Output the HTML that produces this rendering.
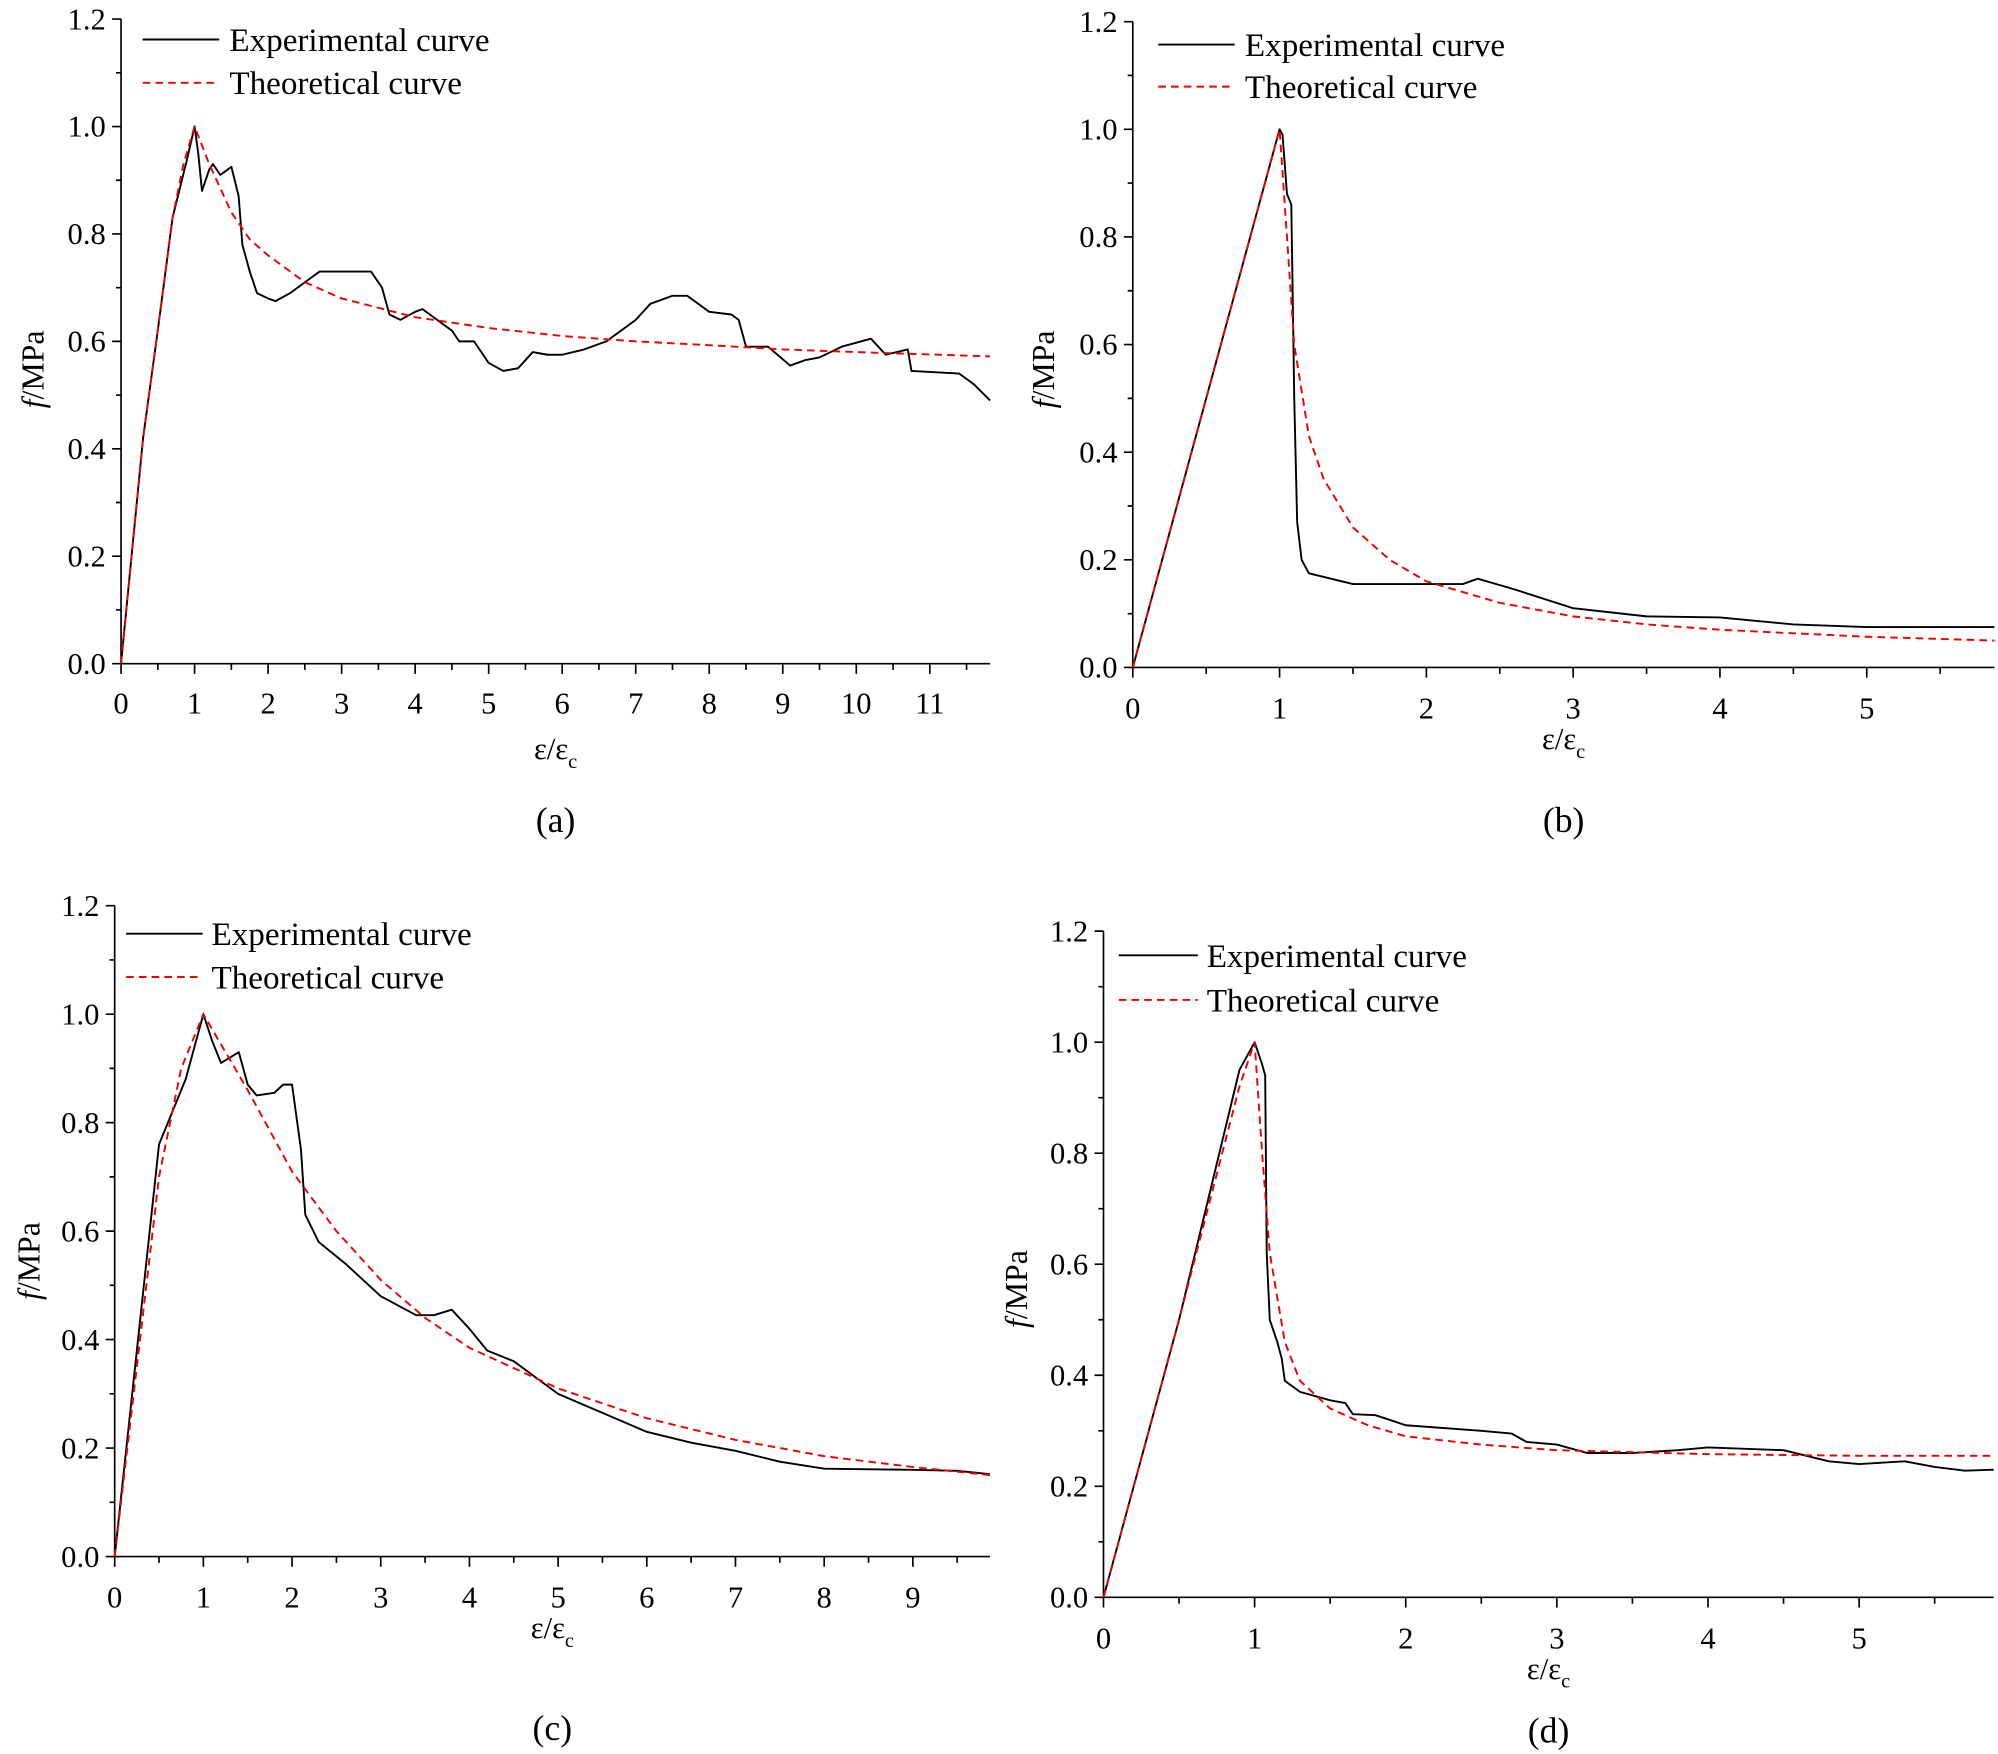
<!DOCTYPE html>
<html><head><meta charset="utf-8"><style>html,body{margin:0;padding:0;background:#fff}svg{display:block}text{font-family:"Liberation Serif","Times New Roman",serif}</style></head>
<body>
<svg id="s" width="1998" height="1754" viewBox="0 0 1568 1377" preserveAspectRatio="none" xmlns="http://www.w3.org/2000/svg"></svg>
<script>
const S=document.getElementById('s');let h='';
const P=[
{x0:95,y0:521,y12:15,ux:57.7,xmax:11.82,xt:11,lab:'(a)',labY:551,xlY:588,capY:643,lg:[112,172,31,180,65],yl:[25,290],
th:[[0,0],[0.3,0.42],[0.5,0.62],[0.7,0.83],[0.85,0.93],[1,1],[1.2,0.93],[1.5,0.84],[1.75,0.79],[2,0.76],[2.5,0.71],[3,0.68],[4,0.645],[5,0.625],[6,0.61],[7,0.6],[8,0.593],[9,0.585],[10,0.58],[11.82,0.572]],
ex:[[0,0],[0.3,0.42],[0.5,0.62],[0.7,0.83],[0.9,0.94],[1,1],[1.05,0.95],[1.1,0.88],[1.2,0.92],[1.25,0.93],[1.35,0.91],[1.45,0.92],[1.5,0.925],[1.6,0.87],[1.65,0.78],[1.75,0.73],[1.85,0.69],[2,0.68],[2.1,0.675],[2.3,0.69],[2.5,0.71],[2.7,0.73],[3,0.73],[3.2,0.73],[3.4,0.73],[3.55,0.7],[3.65,0.65],[3.8,0.64],[4,0.655],[4.1,0.66],[4.3,0.64],[4.5,0.62],[4.6,0.6],[4.8,0.6],[5,0.56],[5.2,0.545],[5.4,0.55],[5.6,0.58],[5.8,0.575],[6,0.575],[6.3,0.585],[6.6,0.6],[7,0.64],[7.2,0.67],[7.5,0.685],[7.7,0.685],[8,0.655],[8.3,0.65],[8.4,0.64],[8.5,0.59],[8.8,0.59],[9.1,0.555],[9.3,0.565],[9.5,0.57],[9.8,0.59],[10.2,0.605],[10.4,0.575],[10.7,0.585],[10.75,0.545],[11.4,0.54],[11.6,0.52],[11.82,0.49]]},
{x0:889,y0:524,y12:17,ux:115.2,xmax:5.87,xt:5,lab:'(b)',labY:555,xlY:580,capY:643,lg:[909,969,35,977,68],yl:[818,290],
th:[[0,0],[1,1],[1.05,0.8],[1.1,0.6],[1.2,0.43],[1.3,0.35],[1.5,0.26],[1.75,0.2],[2,0.16],[2.5,0.12],[3,0.095],[3.5,0.08],[4,0.07],[5,0.057],[5.87,0.05]],
ex:[[0,0],[1,1],[1.02,0.99],[1.05,0.88],[1.08,0.86],[1.1,0.5],[1.12,0.27],[1.15,0.2],[1.2,0.175],[1.5,0.155],[2,0.155],[2.25,0.155],[2.35,0.165],[2.6,0.145],[3,0.11],[3.5,0.095],[4,0.093],[4.5,0.08],[5,0.075],[5.87,0.075]]},
{x0:90,y0:1222,y12:711,ux:69.6,xmax:9.87,xt:9,lab:'(c)',labY:1253,xlY:1278,capY:1356,lg:[99,159,733,166,767],yl:[22,990],
th:[[0,0],[0.5,0.7],[0.75,0.9],[1,1],[1.5,0.86],[2,0.71],[2.5,0.6],[3,0.51],[3.5,0.44],[4,0.385],[5,0.31],[6,0.255],[7,0.215],[8,0.185],[9,0.165],[9.87,0.15]],
ex:[[0,0],[0.5,0.76],[0.6,0.8],[0.8,0.88],[1,1],[1.1,0.95],[1.2,0.91],[1.4,0.93],[1.5,0.87],[1.6,0.85],[1.8,0.855],[1.9,0.87],[2,0.87],[2.1,0.75],[2.15,0.63],[2.3,0.58],[2.6,0.54],[3,0.48],[3.4,0.445],[3.6,0.445],[3.8,0.455],[4,0.42],[4.2,0.38],[4.5,0.36],[5,0.3],[5.5,0.265],[6,0.23],[6.5,0.21],[7,0.195],[7.5,0.175],[8,0.162],[9,0.16],[9.5,0.158],[9.87,0.152]]},
{x0:866,y0:1254,y12:731,ux:118.6,xmax:5.89,xt:5,lab:'(d)',labY:1285,xlY:1310,capY:1358,lg:[878,940,750,947,785],yl:[797,1012],
th:[[0,0],[0.5,0.5],[0.9,0.92],[1,1],[1.05,0.8],[1.1,0.62],[1.2,0.46],[1.3,0.39],[1.5,0.34],[1.75,0.31],[2,0.29],[2.5,0.275],[3,0.265],[4,0.258],[5,0.255],[5.89,0.255]],
ex:[[0,0],[0.5,0.5],[0.9,0.95],[1,1],[1.05,0.96],[1.07,0.94],[1.08,0.62],[1.1,0.5],[1.15,0.46],[1.18,0.43],[1.2,0.39],[1.3,0.37],[1.5,0.355],[1.6,0.35],[1.65,0.33],[1.8,0.328],[2,0.31],[2.5,0.3],[2.7,0.295],[2.8,0.28],[3,0.275],[3.2,0.26],[3.5,0.26],[3.8,0.265],[4,0.27],[4.5,0.265],[4.8,0.245],[5,0.24],[5.3,0.245],[5.5,0.235],[5.7,0.228],[5.89,0.23]]}
];
for(const p of P){
 const uy=(p.y0-p.y12)/1.2, X=v=>p.x0+v*p.ux, Y=v=>p.y0-v*uy, xe=X(p.xmax);
 let d=`M${p.x0} ${p.y12}V${p.y0}H${xe}`;
 for(let i=0;i<=12;i++){const y=Y(i/10);d+=`M${p.x0} ${y}h${i%2?-4:-7}`;}
 for(let i=0;i<=p.xt*2+1;i++){const x=X(i/2);if(x>xe+0.5)break;d+=`M${x} ${p.y0}v${i%2?5:8}`;}
 h+=`<path d="${d}" stroke="#000" stroke-width="1.3" fill="none"/>`;
 for(let i=0;i<=6;i++)h+=`<text x="${p.x0-12}" y="${Y(i/5)+8}" font-size="24" text-anchor="end">${(i/5).toFixed(1)}</text>`;
 for(let i=0;i<=p.xt;i++)h+=`<text x="${X(i)}" y="${p.labY+9}" font-size="24" text-anchor="middle">${i}</text>`;
 const cx=(p.x0+xe)/2;
 h+=`<text x="${cx}" y="${p.xlY+8}" font-size="24" text-anchor="middle">ε/ε<tspan font-size="16" dy="7">c</tspan></text>`;
 h+=`<text x="${cx}" y="${p.capY+10}" font-size="28" text-anchor="middle">${p.lab}</text>`;
 h+=`<text transform="translate(${p.yl[0]+9},${p.yl[1]}) rotate(-90)" font-size="25" text-anchor="middle"><tspan font-style="italic">f</tspan>/MPa</text>`;
 const l=p.lg;
 h+=`<line x1="${l[0]}" x2="${l[1]}" y1="${l[2]}" y2="${l[2]}" stroke="#000" stroke-width="1.5"/>`;
 h+=`<line x1="${l[0]}" x2="${l[1]}" y1="${l[4]}" y2="${l[4]}" stroke="#e00" stroke-width="1.5" stroke-dasharray="6,4"/>`;
 h+=`<text x="${l[3]}" y="${l[2]+9}" font-size="26">Experimental curve</text>`;
 h+=`<text x="${l[3]}" y="${l[4]+9}" font-size="26">Theoretical curve</text>`;
 const pl=a=>a.map(q=>X(q[0]).toFixed(1)+','+Y(q[1]).toFixed(1)).join(' ');
 h+=`<polyline points="${pl(p.ex)}" fill="none" stroke="#000" stroke-width="1.5" stroke-linejoin="round"/>`;
 h+=`<polyline points="${pl(p.th)}" fill="none" stroke="#e00" stroke-width="1.5" stroke-dasharray="6,4"/>`;
}
S.innerHTML=h;
</script>
</body></html>
